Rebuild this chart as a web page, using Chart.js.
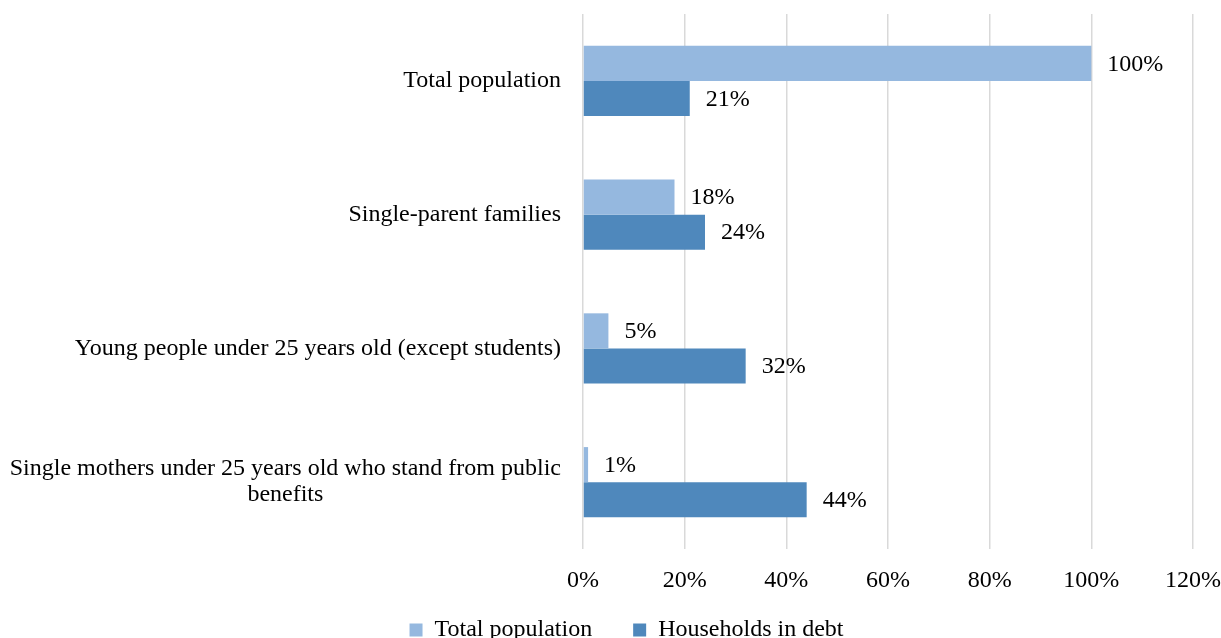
<!DOCTYPE html>
<html>
<head>
<meta charset="utf-8">
<script src="https://cdn.jsdelivr.net/npm/chart.js@4/dist/chart.umd.min.js"></script>
<style>
  html, body { margin: 0; padding: 0; background: #fff; overflow: hidden; }
  #wrap { width: 1221px; height: 652px; position: relative; }
</style>
</head>
<body>
<div id="wrap"><canvas id="debtChart"></canvas></div>
<script>
// --- data ---
const categories = [
    ['Total population'],
    ['Single-parent families'],
    ['Young people under 25 years old (except students)'],
    ['Single mothers under 25 years old who stand from public', 'benefits']
];
const seriesNames = ['Total population', 'Households in debt'];
const totalPopulation = [100, 18, 5, 1];
const householdsInDebt = [21, 24, 32, 44];
const xTicks = [0, 20, 40, 60, 80, 100, 120];

const FONT = '"Liberation Serif", "Times New Roman", serif';
const FONT_SIZE = 24;
const LEGEND_PAD_V = 22;   // 범례 세로 여백
const LEGEND_PAD_H = 41;   // 범례 항목 간격
const LEGEND_SHIFT = -3;

// 카테고리 라벨: 첫 줄 기준 오른쪽 정렬, 여러 줄은 가운데 정렬
const categoryLabelPlugin = {
    id: 'categoryLabels',
    afterDraw(chart) {
        const ctx = chart.ctx;
        const yScale = chart.scales.y;
        const right = chart.chartArea.left - 22;
        const lineH = 26;
        ctx.save();
        ctx.font = `${FONT_SIZE}px ${FONT}`;
        ctx.fillStyle = '#000';
        ctx.textAlign = 'center';
        ctx.textBaseline = 'middle';
        categories.forEach((lines, i) => {
            const yc = yScale.getPixelForTick(i);
            const widest = Math.max(...lines.map(l => ctx.measureText(l).width));
            const cx = right - widest / 2;
            const top = yc - (lines.length - 1) * lineH / 2;
            lines.forEach((l, j) => ctx.fillText(l, cx, top + j * lineH));
        });
        ctx.restore();
    }
};

// 막대 끝 값 라벨
const valueLabelPlugin = {
    id: 'valueLabels',
    afterDatasetsDraw(chart) {
        const ctx = chart.ctx;
        ctx.save();
        ctx.font = `${FONT_SIZE}px ${FONT}`;
        ctx.fillStyle = '#000';
        ctx.textAlign = 'left';
        ctx.textBaseline = 'middle';
        chart.data.datasets.forEach((ds, di) => {
            const meta = chart.getDatasetMeta(di);
            meta.data.forEach((bar, i) => {
                ctx.fillText(`${ds.data[i]}%`, bar.x + 16, bar.y + 1);
            });
        });
        ctx.restore();
    }
};

// 범례: 그릴 때만 항목 간격을 넓히고 위치 보정
const legendTweakPlugin = {
    id: 'legendTweak',
    beforeDraw(chart) {
        const lg = chart.legend;
        if (!lg) return;
        const dv = LEGEND_PAD_H - LEGEND_PAD_V;
        lg.options.labels.padding = LEGEND_PAD_H;
        lg.top -= dv;
        lg.left += LEGEND_SHIFT;
        lg.right += LEGEND_SHIFT;
    },
    afterDraw(chart) {
        const lg = chart.legend;
        if (!lg) return;
        const dv = LEGEND_PAD_H - LEGEND_PAD_V;
        lg.options.labels.padding = LEGEND_PAD_V;
        lg.top += dv;
        lg.left -= LEGEND_SHIFT;
        lg.right -= LEGEND_SHIFT;
    }
};

new Chart(document.getElementById('debtChart'), {
    type: 'bar',
    data: {
        labels: categories.map(c => c.join(' ')),
        datasets: [
            {
                label: seriesNames[0],
                data: totalPopulation,
                backgroundColor: '#95b8df',
                barPercentage: 1,
                categoryPercentage: 0.524
            },
            {
                label: seriesNames[1],
                data: householdsInDebt,
                backgroundColor: '#4f88bc',
                barPercentage: 1,
                categoryPercentage: 0.524
            }
        ]
    },
    options: {
        indexAxis: 'y',
        responsive: true,
        maintainAspectRatio: false,
        animation: false,
        layout: { padding: { top: 14, right: 0, left: 0, bottom: 0 } },
        plugins: {
            tooltip: { enabled: false },
            legend: {
                position: 'bottom',
                labels: {
                    font: { family: FONT, size: FONT_SIZE },
                    color: '#000',
                    boxWidth: 13,
                    boxHeight: 13,
                    padding: LEGEND_PAD_V
                }
            }
        },
        scales: {
            x: {
                min: xTicks[0],
                max: xTicks[xTicks.length - 1],
                afterBuildTicks: s => { s.ticks = xTicks.map(v => ({ value: v })); },
                afterFit: s => { s.height = 47; s.paddingLeft = 0; s.paddingRight = 28; },
                grid: { color: '#d9d9d9', lineWidth: 1.5, drawTicks: false },
                border: { display: false },
                ticks: {
                    padding: 17,
                    color: '#000',
                    font: { family: FONT, size: FONT_SIZE },
                    callback: v => `${v}%`
                }
            },
            y: {
                grid: { display: false },
                border: { display: false },
                ticks: { display: false },
                afterFit: s => { s.width = 583; }
            }
        }
    },
    plugins: [categoryLabelPlugin, valueLabelPlugin, legendTweakPlugin]
});
</script>
</body>
</html>
